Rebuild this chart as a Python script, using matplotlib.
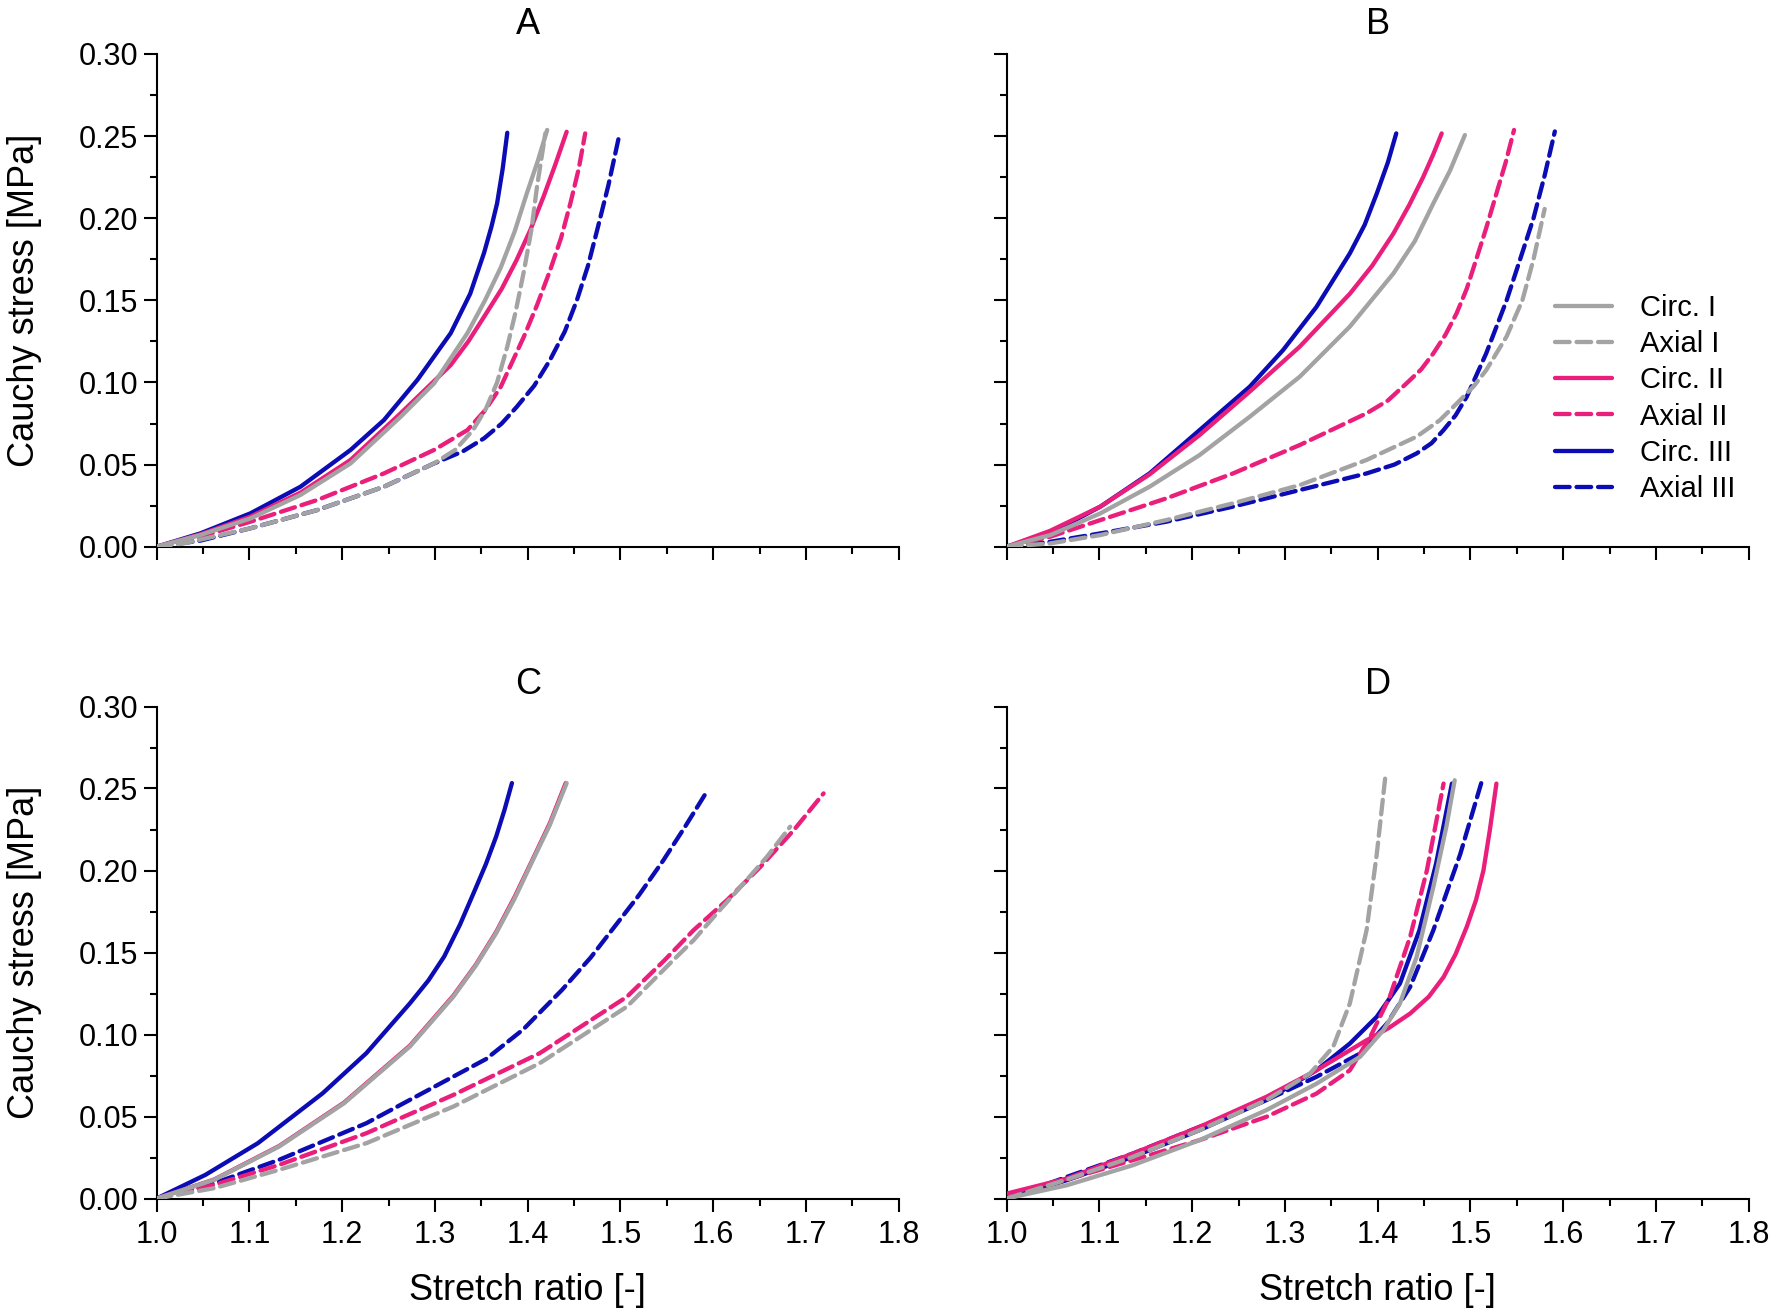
import numpy as np
import matplotlib
matplotlib.use('Agg')
import matplotlib.pyplot as plt
from matplotlib.ticker import MultipleLocator, FormatStrFormatter

plt.rcParams['font.family'] = ['Liberation Sans', 'DejaVu Sans']

# Stretch ratio (x) and Cauchy stress in MPa (y)
# Panel A
a_circ1_x = [1.0, 1.047, 1.101, 1.155, 1.209, 1.263, 1.299, 1.335, 1.354, 1.371, 1.386, 1.399, 1.411, 1.421]
a_circ1_y = [0.0, 0.0071, 0.0172, 0.0315, 0.0507, 0.0791, 0.0994, 0.130, 0.150, 0.170, 0.192, 0.215, 0.235, 0.2537]
a_axial1_x = [1.0, 1.029, 1.101, 1.173, 1.245, 1.299, 1.322, 1.341, 1.355, 1.367, 1.378, 1.387, 1.396, 1.404, 1.410, 1.419]
a_axial1_y = [0.0, 0.002, 0.0112, 0.0223, 0.0365, 0.0507, 0.059, 0.071, 0.084, 0.100, 0.1218, 0.143, 0.168, 0.193, 0.219, 0.2516]
a_circ2_x = [1.0, 1.047, 1.101, 1.155, 1.209, 1.263, 1.317, 1.336, 1.353, 1.372, 1.388, 1.403, 1.417, 1.430, 1.442]
a_circ2_y = [0.0, 0.0075, 0.0183, 0.0329, 0.0528, 0.0812, 0.1106, 0.125, 0.140, 0.157, 0.1745, 0.193, 0.213, 0.233, 0.2526]
a_axial2_x = [1.0, 1.047, 1.101, 1.173, 1.245, 1.299, 1.335, 1.354, 1.371, 1.396, 1.410, 1.424, 1.436, 1.446, 1.455, 1.462]
a_axial2_y = [0.0, 0.0061, 0.0152, 0.0284, 0.0446, 0.0589, 0.071, 0.083, 0.0974, 0.128, 0.147, 0.168, 0.188, 0.209, 0.230, 0.2516]
a_circ3_x = [1.0, 1.047, 1.101, 1.155, 1.209, 1.245, 1.281, 1.317, 1.338, 1.353, 1.361, 1.367, 1.373, 1.378]
a_circ3_y = [0.0, 0.0081, 0.0203, 0.0365, 0.0589, 0.0771, 0.1015, 0.130, 0.154, 0.179, 0.195, 0.209, 0.230, 0.252]
a_axial3_x = [1.0, 1.047, 1.101, 1.173, 1.245, 1.299, 1.330, 1.353, 1.372, 1.388, 1.407, 1.424, 1.440, 1.453, 1.465,
              1.475, 1.487, 1.498]
a_axial3_y = [0.0, 0.0037, 0.0112, 0.0223, 0.0365, 0.0507, 0.058, 0.066, 0.075, 0.085, 0.098, 0.1136, 0.131, 0.150,
              0.171, 0.193, 0.220, 0.2486]

# Panel B
b_circ1_x = [1.0, 1.047, 1.101, 1.154, 1.208, 1.262, 1.316, 1.370, 1.417, 1.440, 1.460, 1.478, 1.494]
b_circ1_y = [0.0, 0.0071, 0.0203, 0.0365, 0.0558, 0.0791, 0.1035, 0.134, 0.1664, 0.186, 0.209, 0.229, 0.2506]
b_axial1_x = [1.0, 1.047, 1.101, 1.172, 1.244, 1.316, 1.388, 1.442, 1.467, 1.489, 1.504, 1.517, 1.539, 1.556, 1.568, 1.580]
b_axial1_y = [0.0, 0.002, 0.0071, 0.0162, 0.0264, 0.0375, 0.0528, 0.067, 0.077, 0.0893, 0.098, 0.1075, 0.128, 0.150, 0.175, 0.2056]
b_circ2_x = [1.0, 1.047, 1.101, 1.154, 1.208, 1.262, 1.316, 1.370, 1.394, 1.417, 1.434, 1.449, 1.460, 1.469]
b_circ2_y = [0.0, 0.0097, 0.0244, 0.044, 0.068, 0.0944, 0.1218, 0.154, 0.171, 0.1907, 0.208, 0.225, 0.239, 0.2516]
b_axial2_x = [1.0, 1.047, 1.101, 1.172, 1.244, 1.316, 1.388, 1.411, 1.431, 1.447, 1.460, 1.473, 1.485, 1.496, 1.506,
              1.517, 1.528, 1.538, 1.547]
b_axial2_y = [0.0, 0.0061, 0.0162, 0.0294, 0.0446, 0.0619, 0.0812, 0.089, 0.0994, 0.108, 0.1177, 0.129, 0.142, 0.157,
              0.1745, 0.194, 0.215, 0.234, 0.2537]
b_circ3_x = [1.0, 1.047, 1.101, 1.154, 1.208, 1.262, 1.298, 1.334, 1.370, 1.386, 1.399, 1.411, 1.420]
b_circ3_y = [0.0, 0.0081, 0.0244, 0.0446, 0.071, 0.0974, 0.1197, 0.146, 0.1786, 0.196, 0.215, 0.234, 0.2516]
b_axial3_x = [1.0, 1.047, 1.101, 1.172, 1.244, 1.316, 1.388, 1.418, 1.442, 1.458, 1.471, 1.484, 1.496, 1.517, 1.539,
              1.553, 1.568, 1.580, 1.591]
b_axial3_y = [0.0, 0.003, 0.0081, 0.0152, 0.0244, 0.0345, 0.0446, 0.050, 0.0568, 0.063, 0.071, 0.080, 0.0913, 0.1177,
              0.150, 0.174, 0.200, 0.226, 0.2528]

# Panel C
c_circ1_x = [1.0, 1.062, 1.132, 1.202, 1.273, 1.320, 1.344, 1.366, 1.386, 1.404, 1.424, 1.442]
c_circ1_y = [0.0, 0.0114, 0.0317, 0.0581, 0.0927, 0.1232, 0.142, 0.1618, 0.183, 0.2045, 0.228, 0.2533]
c_axial1_x = [1.0, 1.062, 1.132, 1.226, 1.320, 1.413, 1.507, 1.557, 1.579, 1.604, 1.633, 1.658, 1.683]
c_axial1_y = [0.0, 0.0063, 0.0175, 0.0337, 0.0561, 0.0825, 0.117, 0.1454, 0.1576, 0.1739, 0.1922, 0.2084, 0.2267]
c_circ2_x = [1.0, 1.062, 1.132, 1.202, 1.273, 1.320, 1.344, 1.366, 1.386, 1.404, 1.424, 1.441]
c_circ2_y = [0.0, 0.0116, 0.0320, 0.0585, 0.0932, 0.1238, 0.1425, 0.1625, 0.184, 0.2052, 0.229, 0.2533]
c_axial2_x = [1.0, 1.062, 1.132, 1.226, 1.320, 1.413, 1.507, 1.547, 1.579, 1.615, 1.651, 1.687, 1.719]
c_axial2_y = [0.0, 0.0083, 0.0205, 0.0398, 0.0632, 0.0886, 0.123, 0.145, 0.1637, 0.182, 0.2023, 0.2247, 0.247]
c_circ3_x = [1.0, 1.0525, 1.109, 1.179, 1.226, 1.273, 1.293, 1.310, 1.327, 1.343, 1.355, 1.366, 1.375, 1.383]
c_circ3_y = [0.0, 0.0144, 0.0337, 0.0642, 0.0886, 0.119, 0.133, 0.1476, 0.167, 0.188, 0.204, 0.2207, 0.237, 0.2533]
c_axial3_x = [1.0, 1.062, 1.132, 1.226, 1.320, 1.355, 1.395, 1.437, 1.468, 1.494, 1.520, 1.546, 1.570, 1.593]
c_axial3_y = [0.0, 0.0093, 0.0236, 0.0459, 0.0744, 0.085, 0.103, 0.1272, 0.147, 0.166, 0.185, 0.206, 0.227, 0.248]

# Panel D
d_circ1_x = [1.0, 1.065, 1.136, 1.208, 1.280, 1.334, 1.381, 1.406, 1.424, 1.442, 1.460, 1.474, 1.483]
d_circ1_y = [0.0, 0.0081, 0.0203, 0.0356, 0.0539, 0.070, 0.0864, 0.1026, 0.119, 0.1474, 0.190, 0.2266, 0.255]
d_axial1_x = [1.0, 1.065, 1.136, 1.208, 1.280, 1.327, 1.352, 1.370, 1.388, 1.399, 1.408]
d_axial1_y = [0.0, 0.0116, 0.0254, 0.0417, 0.060, 0.0762, 0.0925, 0.119, 0.1636, 0.210, 0.256]
d_circ2_x = [1.0, 1.065, 1.136, 1.208, 1.280, 1.334, 1.388, 1.412, 1.435, 1.455, 1.471, 1.484, 1.496, 1.506, 1.514,
             1.521, 1.528]
d_circ2_y = [0.003, 0.0122, 0.0274, 0.0437, 0.062, 0.0782, 0.0965, 0.104, 0.1128, 0.123, 0.135, 0.149, 0.1656, 0.182,
             0.200, 0.225, 0.253]
d_axial2_x = [1.0, 1.065, 1.136, 1.208, 1.280, 1.334, 1.370, 1.392, 1.413, 1.435, 1.453, 1.471]
d_axial2_y = [0.0, 0.0116, 0.0234, 0.0356, 0.0498, 0.064, 0.0782, 0.0986, 0.123, 0.1596, 0.200, 0.253]
d_circ3_x = [1.0, 1.065, 1.136, 1.208, 1.280, 1.334, 1.370, 1.399, 1.424, 1.445, 1.463, 1.480]
d_circ3_y = [0.0, 0.0112, 0.0254, 0.0417, 0.060, 0.0782, 0.0945, 0.1108, 0.1311, 0.1636, 0.2043, 0.253]
d_axial3_x = [1.0, 1.065, 1.136, 1.208, 1.280, 1.334, 1.381, 1.410, 1.435, 1.460, 1.489, 1.512]
d_axial3_y = [0.0, 0.0132, 0.0274, 0.0437, 0.060, 0.0742, 0.0884, 0.1067, 0.129, 0.1636, 0.210, 0.254]

panels = {
    'A': [(a_circ1_x, a_circ1_y), (a_axial1_x, a_axial1_y), (a_circ2_x, a_circ2_y),
          (a_axial2_x, a_axial2_y), (a_circ3_x, a_circ3_y), (a_axial3_x, a_axial3_y)],
    'B': [(b_circ1_x, b_circ1_y), (b_axial1_x, b_axial1_y), (b_circ2_x, b_circ2_y),
          (b_axial2_x, b_axial2_y), (b_circ3_x, b_circ3_y), (b_axial3_x, b_axial3_y)],
    'C': [(c_circ1_x, c_circ1_y), (c_axial1_x, c_axial1_y), (c_circ2_x, c_circ2_y),
          (c_axial2_x, c_axial2_y), (c_circ3_x, c_circ3_y), (c_axial3_x, c_axial3_y)],
    'D': [(d_circ1_x, d_circ1_y), (d_axial1_x, d_axial1_y), (d_circ2_x, d_circ2_y),
          (d_axial2_x, d_axial2_y), (d_circ3_x, d_circ3_y), (d_axial3_x, d_axial3_y)],
}
labels = ['Circ. I', 'Axial I', 'Circ. II', 'Axial II', 'Circ. III', 'Axial III']
gray, pink, blue = '#a3a3a3', '#ea1e7b', '#0c0cb4'
colors = [gray, gray, pink, pink, blue, blue]
dashed = [False, True, False, True, False, True]
zorders = [6, 6, 4, 4, 2, 2]

fig = plt.figure(figsize=(17.7, 13.14), dpi=100)
width = 742 / 1770
boxes = {
    'A': [156.7 / 1770, 1 - 546.7 / 1314, width, 492.8 / 1314],
    'B': [1006.7 / 1770, 1 - 546.7 / 1314, width, 492.8 / 1314],
    'C': [156.7 / 1770, 1 - 1198.5 / 1314, width, 492 / 1314],
    'D': [1006.7 / 1770, 1 - 1198.5 / 1314, width, 492 / 1314],
}

handles = []
for name, curves in panels.items():
    ax = fig.add_axes(boxes[name])
    for i, (x, y) in enumerate(curves):
        line, = ax.plot(x, y, color=colors[i], lw=3.1, zorder=zorders[i],
                        solid_capstyle='round', dash_capstyle='round',
                        solid_joinstyle='round', label=labels[i])
        if dashed[i]:
            line.set_dashes((3.4, 1.6))
        if name == 'B':
            handles.append(line)

    ax.set_xlim(1.0, 1.8)
    ax.set_ylim(0.0, 0.30)
    ax.xaxis.set_major_locator(MultipleLocator(0.1))
    ax.xaxis.set_minor_locator(MultipleLocator(0.05))
    ax.yaxis.set_major_locator(MultipleLocator(0.05))
    ax.yaxis.set_minor_locator(MultipleLocator(0.025))
    ax.xaxis.set_major_formatter(FormatStrFormatter('%.1f'))
    ax.yaxis.set_major_formatter(FormatStrFormatter('%.2f'))
    for s in ['top', 'right']:
        ax.spines[s].set_visible(False)
    for s in ['left', 'bottom']:
        ax.spines[s].set_linewidth(1.5)
    ax.tick_params(which='major', direction='out', length=9.4, width=1.5, labelsize=22)
    ax.tick_params(which='minor', direction='out', length=5, width=1.5)
    ax.tick_params(axis='x', pad=6)
    ax.tick_params(axis='y', pad=4)

    if name in ('A', 'B'):
        ax.tick_params(axis='x', labelbottom=False)
        ax.set_title(name, fontsize=26, pad=14)
    else:
        ax.set_title(name, fontsize=26, pad=9)
        ax.set_xlabel('Stretch ratio [-]', fontsize=26)
        ax.xaxis.set_label_coords(0.5, -0.151)
    if name in ('B', 'D'):
        ax.tick_params(axis='y', labelleft=False)
    else:
        ax.set_ylabel('Cauchy stress [MPa]', fontsize=26)
        ax.yaxis.set_label_coords(-0.155, 0.5)

    if name == 'B':
        ax.legend(handles=handles, loc='center left', bbox_to_anchor=(0.7396, 0.3007),
                  frameon=False, fontsize=21, handlelength=1.95, handletextpad=0.95,
                  labelspacing=0.28, borderpad=0, borderaxespad=0)

fig.savefig('out.png', dpi=100)
